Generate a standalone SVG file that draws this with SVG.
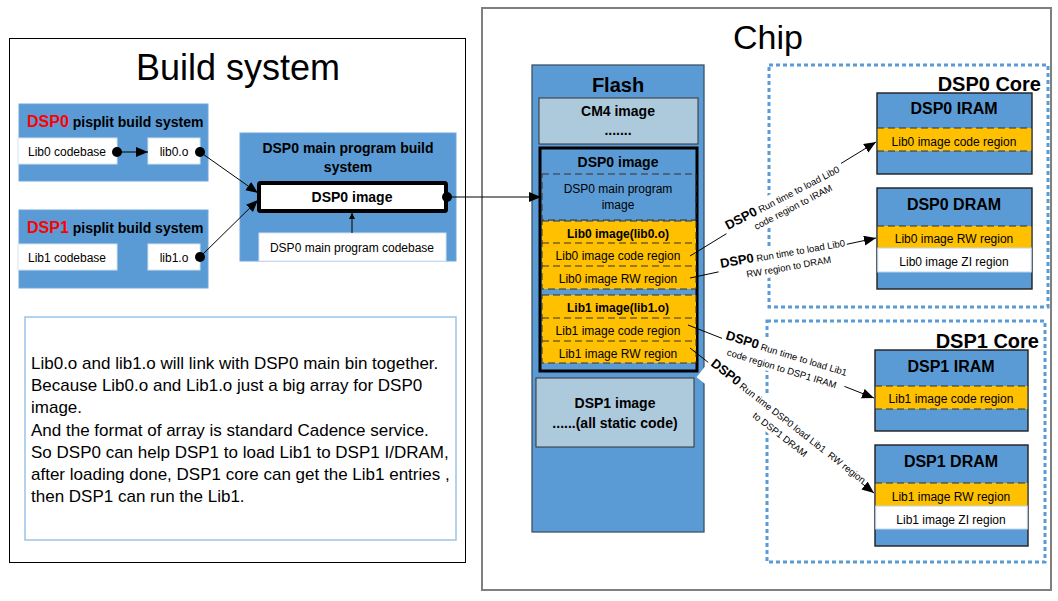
<svg xmlns="http://www.w3.org/2000/svg" width="1058" height="601" viewBox="0 0 1058 601">
<defs>
<style>
text{font-family:"Liberation Sans",Arial,sans-serif;fill:#000}
.blue{fill:#5b9bd5}
.bsys{fill:#5b9bd5;stroke:#6ea6da;stroke-width:1}
.wbox{fill:#fff;stroke:#d6e3f1;stroke-width:1}
.node{fill:#5b9bd5;stroke:#1f1f1f;stroke-width:1.4}
.lb{fill:#adcadd;stroke:#333;stroke-width:1}
.yel{fill:#ffc000}
.dash{fill:none;stroke:#333;stroke-width:1;stroke-dasharray:7 4}
.core{fill:none;stroke:#5b9bd5;stroke-width:3;stroke-dasharray:4 3}
.t12{font-size:12px;text-anchor:middle}
.b14{font-size:14px;font-weight:bold;text-anchor:middle}
.b16{font-size:16px;font-weight:bold;text-anchor:middle}
.b12{font-size:12px;font-weight:bold;text-anchor:middle}
.conn{fill:none;stroke:#000;stroke-width:1}
.lbl{font-size:9.5px}
.lblb{font-size:13px;font-weight:bold}
.para{font-size:17px}
</style>
<marker id="arr" markerUnits="userSpaceOnUse" markerWidth="13" markerHeight="11" refX="12" refY="5" orient="auto"><path d="M0,0 L12,5 L0,10 z" fill="#000"/></marker>
<marker id="arrs" markerUnits="userSpaceOnUse" markerWidth="8" markerHeight="8" refX="6" refY="3" orient="auto"><path d="M0,0 L6,3 L0,6 z" fill="#000"/></marker>
<marker id="dot" markerUnits="userSpaceOnUse" markerWidth="12" markerHeight="12" refX="6" refY="6"><circle cx="6" cy="6" r="5" fill="#000"/></marker>
</defs>
<rect width="1058" height="601" fill="#fff"/>

<g id="build-system">
<rect x="9.5" y="38.5" width="456" height="524" fill="#fff" stroke="#000" stroke-width="1"/>
<text x="238" y="80" font-size="36" text-anchor="middle">Build system</text>
</g>

<g id="dsp0-pisplit">
<rect class="bsys" x="19" y="104" width="189" height="77"/>
<text x="27" y="127"><tspan font-size="16" font-weight="bold" style="fill:#ff0000">DSP0</tspan><tspan font-size="14" font-weight="bold"> pisplit build system</tspan></text>
</g>
<g id="lib0-codebase"><rect class="wbox" x="18" y="138" width="99" height="26"/><text class="t12" x="67" y="156">Lib0 codebase</text></g>
<g id="lib0-o"><rect class="wbox" x="148" y="138" width="52" height="26"/><text class="t12" x="174" y="156">lib0.o</text></g>

<g id="dsp1-pisplit">
<rect class="bsys" x="19" y="210" width="189" height="78"/>
<text x="27" y="233"><tspan font-size="16" font-weight="bold" style="fill:#ff0000">DSP1</tspan><tspan font-size="14" font-weight="bold"> pisplit build system</tspan></text>
</g>
<g id="lib1-codebase"><rect class="wbox" x="18" y="244" width="99" height="26"/><text class="t12" x="67" y="262">Lib1 codebase</text></g>
<g id="lib1-o"><rect class="wbox" x="148" y="244" width="52" height="26"/><text class="t12" x="174" y="262">lib1.o</text></g>

<g id="dsp0-main-build">
<rect class="bsys" x="240" y="133" width="216" height="128"/>
<text class="b14" x="348" y="153">DSP0 main program build</text>
<text class="b14" x="348" y="172">system</text>
</g>
<g id="dsp0-image-build"><rect x="259" y="183" width="187" height="28" rx="1.5" fill="#fff" stroke="#000" stroke-width="4"/><text class="b14" x="352" y="202">DSP0 image</text></g>
<g id="dsp0-main-codebase"><rect class="wbox" x="259" y="233" width="187" height="28"/><text class="t12" x="352" y="252">DSP0 main program codebase</text></g>

<g id="description">
<rect x="25" y="317" width="431" height="223" fill="#fff" stroke="#9dc3e6" stroke-width="1.5"/>
<text class="para" x="31" y="369">Lib0.o and lib1.o will link with DSP0 main bin together.</text>
<text class="para" x="31" y="391.2">Because Lib0.o and Lib1.o just a big array for DSP0</text>
<text class="para" x="31" y="413.4">image.</text>
<text class="para" x="31" y="435.6">And the format of array is standard Cadence service.</text>
<text class="para" x="31" y="457.8">So DSP0 can help DSP1 to load Lib1 to DSP1 I/DRAM,</text>
<text class="para" x="31" y="480">after loading done, DSP1 core can get the Lib1 entries ,</text>
<text class="para" x="31" y="502.2">then DSP1 can run the Lib1.</text>
</g>

<g id="chip">
<rect x="482" y="8" width="569" height="582" fill="#fff" stroke="#7f7f7f" stroke-width="2"/>
<text x="768" y="49" font-size="34" text-anchor="middle">Chip</text>
</g>

<g id="flash">
<rect x="532" y="65" width="172" height="467" fill="#5b9bd5" stroke="#3d5366" stroke-width="1.3"/>
<text x="618" y="92" font-size="20" font-weight="bold" text-anchor="middle">Flash</text>
</g>
<g id="cm4-image"><rect class="lb" x="539" y="98" width="159" height="46"/><text class="b14" x="618" y="116">CM4 image</text><text class="b14" x="618" y="135">.......</text></g>
<g id="dsp0-image-flash">
<rect x="540" y="148" width="157" height="223" fill="#5b9bd5" stroke="#000" stroke-width="3"/>
<text class="b14" x="618" y="167">DSP0 image</text>
</g>
<g id="dsp0-main-image"><rect class="dash" x="542" y="174" width="154" height="46"/><text class="t12" x="618" y="193">DSP0 main program</text><text class="t12" x="618" y="209">image</text></g>
<g id="lib0-image-flash">
<rect class="yel" x="542" y="221" width="154" height="68"/>
<rect class="dash" x="542" y="221" width="154" height="68"/>
<line class="dash" x1="542" y1="243" x2="696" y2="243"/>
<line class="dash" x1="542" y1="266" x2="696" y2="266"/>
<text class="b12" x="618" y="238">Lib0 image(lib0.o)</text>
<text class="t12" x="618" y="260">Lib0 image code region</text>
<text class="t12" x="618" y="283">Lib0 image RW region</text>
</g>
<g id="lib1-image-flash">
<rect class="yel" x="542" y="295" width="154" height="68"/>
<rect class="dash" x="542" y="295" width="154" height="68"/>
<line class="dash" x1="542" y1="318" x2="696" y2="318"/>
<line class="dash" x1="542" y1="341" x2="696" y2="341"/>
<text class="b12" x="618" y="312">Lib1 image(lib1.o)</text>
<text class="t12" x="618" y="335">Lib1 image code region</text>
<text class="t12" x="618" y="358">Lib1 image RW region</text>
</g>
<g id="dsp1-image-flash"><rect class="lb" x="536" y="378" width="158" height="69"/><text class="b14" x="615" y="408">DSP1 image</text><text class="b14" x="615" y="428">......(all static code)</text></g>

<g id="dsp0-core">
<rect class="core" x="769" y="65" width="279" height="242"/>
<text x="1041" y="91" font-size="20" font-weight="bold" text-anchor="end">DSP0 Core</text>
</g>
<g id="dsp0-iram">
<rect class="node" x="877" y="93" width="155" height="81"/>
<text class="b16" x="954" y="114">DSP0 IRAM</text>
<rect class="yel" x="877.7" y="128" width="153.6" height="23"/>
<line class="dash" x1="877" y1="128" x2="1032" y2="128"/><line class="dash" x1="877" y1="151" x2="1032" y2="151"/>
<text class="t12" x="954" y="146">Lib0 image code region</text>
</g>
<g id="dsp0-dram">
<rect class="node" x="877" y="188" width="155" height="101"/>
<text class="b16" x="954" y="210">DSP0 DRAM</text>
<rect class="yel" x="877.7" y="226" width="153.6" height="22"/>
<line class="dash" x1="877" y1="226" x2="1032" y2="226"/>
<rect x="877.7" y="248" width="153.6" height="24" fill="#fff" stroke="#bcd5ec" stroke-width="1"/>
<text class="t12" x="954" y="243">Lib0 image RW region</text>
<text class="t12" x="954" y="266">Lib0 image ZI region</text>
</g>

<g id="dsp1-core">
<rect class="core" x="767" y="321" width="278" height="241"/>
<text x="1039" y="348" font-size="20" font-weight="bold" text-anchor="end">DSP1 Core</text>
</g>
<g id="dsp1-iram">
<rect class="node" x="875" y="350" width="153" height="81"/>
<text class="b16" x="951" y="372">DSP1 IRAM</text>
<rect class="yel" x="875.7" y="386" width="151.6" height="23"/>
<line class="dash" x1="875" y1="386" x2="1028" y2="386"/><line class="dash" x1="875" y1="409" x2="1028" y2="409"/>
<text class="t12" x="951" y="403">Lib1 image code region</text>
</g>
<g id="dsp1-dram">
<rect class="node" x="875" y="445" width="153" height="101"/>
<text class="b16" x="951" y="467">DSP1 DRAM</text>
<rect class="yel" x="875.7" y="483" width="151.6" height="23"/>
<line class="dash" x1="875" y1="483" x2="1028" y2="483"/>
<rect x="875.7" y="506" width="151.6" height="23" fill="#fff" stroke="#bcd5ec" stroke-width="1"/>
<text class="t12" x="951" y="501">Lib1 image RW region</text>
<text class="t12" x="951" y="524">Lib1 image ZI region</text>
</g>

<g id="connectors">
<line class="conn" x1="117" y1="152" x2="148" y2="152" stroke-width="2" marker-start="url(#dot)" marker-end="url(#arr)"/>
<line class="conn" x1="200" y1="152" x2="258" y2="193" marker-start="url(#dot)" marker-end="url(#arr)"/>
<line class="conn" x1="200" y1="257" x2="258" y2="200" marker-start="url(#dot)" marker-end="url(#arr)"/>
<line class="conn" x1="352" y1="233" x2="352" y2="213" marker-end="url(#arrs)"/>
<line class="conn" x1="447" y1="197" x2="541" y2="197" marker-start="url(#dot)" marker-end="url(#arr)"/>
<line class="conn" x1="690" y1="256" x2="876" y2="142" marker-end="url(#arr)"/>
<line class="conn" x1="690" y1="278" x2="876" y2="238" marker-end="url(#arr)"/>
<line class="conn" x1="688" y1="325" x2="874" y2="398" marker-end="url(#arr)"/>
<line class="conn" x1="690" y1="348" x2="874" y2="493" marker-end="url(#arr)"/>
<g transform="translate(728,230) rotate(-27.5)">
<rect x="-3" y="-12" width="134" height="29" fill="#fff"/>
<text><tspan class="lblb">DSP0</tspan><tspan class="lbl"> Run time to load Lib0</tspan></text>
<text class="lbl" x="25" y="13">code region to IRAM</text>
</g>
<g transform="translate(721,268) rotate(-10)">
<rect x="-3" y="-12" width="131" height="30" fill="#fff"/>
<text><tspan class="lblb">DSP0</tspan><tspan class="lbl"> Run time to load Lib0</tspan></text>
<text class="lbl" x="24" y="14">RW region to DRAM</text>
</g>
<g transform="translate(725,339) rotate(17)">
<rect x="-3" y="-12" width="131" height="30" fill="#fff"/>
<text><tspan class="lblb">DSP0</tspan><tspan class="lbl"> Run time to load Lib1</tspan></text>
<text class="lbl" x="6" y="15">code region to DSP1 IRAM</text>
</g>
<g transform="translate(710,365) rotate(38)">
<rect x="-3" y="-12" width="195" height="30" fill="#fff"/>
<text xml:space="preserve"><tspan class="lblb">DSP0</tspan><tspan class="lbl"> Run time DSP0 load Lib1  RW region</tspan></text>
<text class="lbl" x="65" y="15">to DSP1 DRAM</text>
</g>
</g>
</svg>
